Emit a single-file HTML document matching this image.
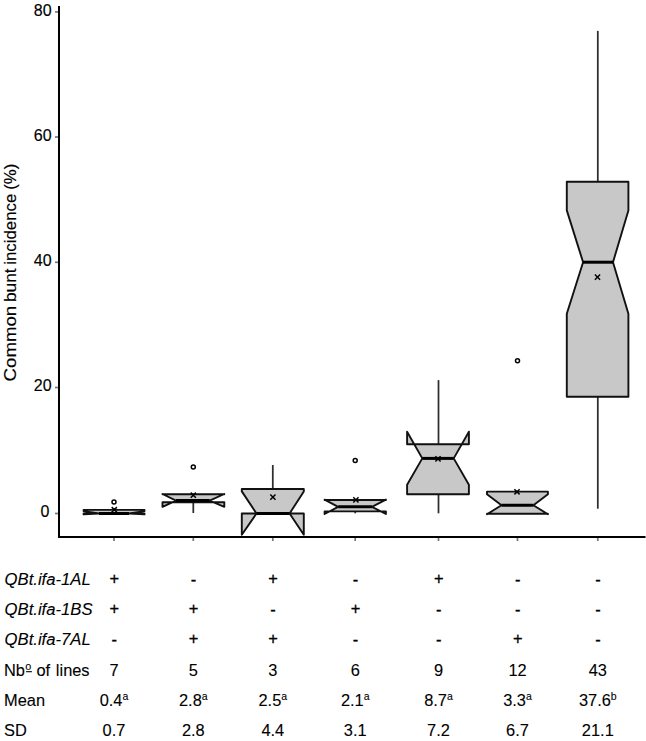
<!DOCTYPE html>
<html><head><meta charset="utf-8"><style>
html,body{margin:0;padding:0;background:#fff;}
body{width:646px;height:741px;overflow:hidden;}
svg{display:block;}
.t{font-family:"Liberation Sans",sans-serif;font-size:16px;fill:#000;}
</style></head><body>
<svg width="646" height="741" viewBox="0 0 646 741">
<line x1="59" y1="6" x2="59" y2="538" stroke="#000" stroke-width="2"/>
<line x1="58" y1="537" x2="645.5" y2="537" stroke="#000" stroke-width="2"/>
<line x1="55" y1="11.9" x2="58" y2="11.9" stroke="#777" stroke-width="1.7"/>
<text x="51.6" y="15.8" text-anchor="end" class="t" style="font-size:16px;stroke:#000;stroke-width:0.15px">80</text>
<line x1="55" y1="137" x2="58" y2="137" stroke="#777" stroke-width="1.7"/>
<text x="51.6" y="141.1" text-anchor="end" class="t" style="font-size:16px;stroke:#000;stroke-width:0.15px">60</text>
<line x1="55" y1="262.3" x2="58" y2="262.3" stroke="#777" stroke-width="1.7"/>
<text x="51.6" y="265.6" text-anchor="end" class="t" style="font-size:16px;stroke:#000;stroke-width:0.15px">40</text>
<line x1="55" y1="387.5" x2="58" y2="387.5" stroke="#777" stroke-width="1.7"/>
<text x="51.6" y="390.9" text-anchor="end" class="t" style="font-size:16px;stroke:#000;stroke-width:0.15px">20</text>
<line x1="55" y1="513.5" x2="58" y2="513.5" stroke="#777" stroke-width="1.7"/>
<text x="49.4" y="516.9" text-anchor="end" class="t" style="font-size:16px;stroke:#000;stroke-width:0.15px">0</text>
<line x1="114" y1="538" x2="114" y2="541" stroke="#777" stroke-width="1.7"/>
<line x1="193.3" y1="538" x2="193.3" y2="541" stroke="#777" stroke-width="1.7"/>
<line x1="272.8" y1="538" x2="272.8" y2="541" stroke="#777" stroke-width="1.7"/>
<line x1="355.2" y1="538" x2="355.2" y2="541" stroke="#777" stroke-width="1.7"/>
<line x1="438.5" y1="538" x2="438.5" y2="541" stroke="#777" stroke-width="1.7"/>
<line x1="517.5" y1="538" x2="517.5" y2="541" stroke="#777" stroke-width="1.7"/>
<line x1="597.8" y1="538" x2="597.8" y2="541" stroke="#777" stroke-width="1.7"/>
<text transform="translate(15.9,381.4) rotate(-90) scale(1.078,1)" class="t" style="font-size:17.3px;stroke:#000;stroke-width:0.15px">Common</text>
<text transform="translate(15.9,302) rotate(-90) scale(1.0,1)" class="t" style="font-size:17.3px;stroke:#000;stroke-width:0.15px">bunt</text>
<text transform="translate(15.9,264.8) rotate(-90) scale(0.974,1)" class="t" style="font-size:17.3px;stroke:#000;stroke-width:0.15px">incidence</text>
<text transform="translate(15.9,189.8) rotate(-90) scale(0.976,1)" class="t" style="font-size:17.3px;stroke:#000;stroke-width:0.15px">(%)</text>
<line x1="114" y1="509.9" x2="114" y2="508" stroke="#2e2e2e" stroke-width="1.75"/>
<circle cx="114" cy="502.1" r="2.0" fill="none" stroke="#000" stroke-width="1.5"/>
<path d="M83.6,509.9 L83.6,511.1 L99,513.5 L83.6,514.4 L83.6,513.5 L144.5,513.5 L144.5,514.4 L129,513.5 L144.5,511.1 L144.5,509.9 Z" fill="#c8c8c8" stroke="#111" stroke-width="1.9" stroke-linejoin="round"/>
<line x1="99" y1="513.5" x2="129" y2="513.5" stroke="#000" stroke-width="3"/>
<path d="M111.7,507.1 L116.9,512.3 M111.7,512.3 L116.9,507.1" stroke="#000" stroke-width="1.5" fill="none"/>
<line x1="193.3" y1="502.2" x2="193.3" y2="513" stroke="#2e2e2e" stroke-width="1.75"/>
<circle cx="193.3" cy="467" r="2.0" fill="none" stroke="#000" stroke-width="1.5"/>
<path d="M162.5,494.3 L162.5,494 L176,500.6 L162.5,506.8 L162.5,502.2 L224.3,502.2 L224.3,506.8 L209.6,500.6 L224.3,494 L224.3,494.3 Z" fill="#c8c8c8" stroke="#111" stroke-width="1.9" stroke-linejoin="round"/>
<line x1="176" y1="500.6" x2="209.6" y2="500.6" stroke="#000" stroke-width="3"/>
<path d="M190.7,492.6 L195.9,497.8 M190.7,497.8 L195.9,492.6" stroke="#000" stroke-width="1.5" fill="none"/>
<line x1="272.8" y1="489" x2="272.8" y2="465" stroke="#2e2e2e" stroke-width="1.75"/>
<path d="M241.8,489 L241.8,491.4 L256.5,513.5 L241.8,534.8 L241.8,513.5 L303.8,513.5 L303.8,534.8 L289.6,513.5 L303.8,491.4 L303.8,489 Z" fill="#c8c8c8" stroke="#111" stroke-width="1.9" stroke-linejoin="round"/>
<line x1="256.5" y1="513.5" x2="289.6" y2="513.5" stroke="#000" stroke-width="3"/>
<path d="M270.3,494.5 L275.5,499.7 M270.3,499.7 L275.5,494.5" stroke="#000" stroke-width="1.5" fill="none"/>
<line x1="355.2" y1="511.4" x2="355.2" y2="513.3" stroke="#2e2e2e" stroke-width="1.75"/>
<circle cx="355.2" cy="460.5" r="2.0" fill="none" stroke="#000" stroke-width="1.5"/>
<path d="M324.6,500 L324.6,499.6 L338.2,506.8 L324.6,514 L324.6,511.4 L385.9,511.4 L385.9,514 L371.9,506.8 L385.9,499.6 L385.9,500 Z" fill="#c8c8c8" stroke="#111" stroke-width="1.9" stroke-linejoin="round"/>
<line x1="338.2" y1="506.8" x2="371.9" y2="506.8" stroke="#000" stroke-width="3"/>
<path d="M353.3,497.3 L358.5,502.5 M353.3,502.5 L358.5,497.3" stroke="#000" stroke-width="1.5" fill="none"/>
<line x1="438.5" y1="444.3" x2="438.5" y2="380.1" stroke="#2e2e2e" stroke-width="1.75"/>
<line x1="438.5" y1="494.3" x2="438.5" y2="513.3" stroke="#2e2e2e" stroke-width="1.75"/>
<path d="M407.1,444.3 L407.1,431.7 L422.3,458.4 L407.1,484.8 L407.1,494.3 L468.9,494.3 L468.9,484.8 L453.7,458.4 L468.9,431.7 L468.9,444.3 Z" fill="#c8c8c8" stroke="#111" stroke-width="1.9" stroke-linejoin="round"/>
<line x1="422.3" y1="458.4" x2="453.7" y2="458.4" stroke="#000" stroke-width="3"/>
<path d="M435.4,456.3 L440.6,461.5 M435.4,461.5 L440.6,456.3" stroke="#000" stroke-width="1.5" fill="none"/>
<circle cx="517.5" cy="360.8" r="2.0" fill="none" stroke="#000" stroke-width="1.5"/>
<path d="M487,491.6 L487,494.2 L501.5,505.2 L487,514.3 L487,513.7 L547.9,513.7 L547.9,514.3 L533.4,505.2 L547.9,494.2 L547.9,491.6 Z" fill="#c8c8c8" stroke="#111" stroke-width="1.9" stroke-linejoin="round"/>
<line x1="501.5" y1="505.2" x2="533.4" y2="505.2" stroke="#000" stroke-width="3"/>
<path d="M514.4,489.2 L519.6,494.4 M514.4,494.4 L519.6,489.2" stroke="#000" stroke-width="1.5" fill="none"/>
<line x1="597.8" y1="181.8" x2="597.8" y2="30.9" stroke="#2e2e2e" stroke-width="1.75"/>
<line x1="597.8" y1="396.8" x2="597.8" y2="508.7" stroke="#2e2e2e" stroke-width="1.75"/>
<path d="M566.8,181.8 L566.8,210.4 L583.1,262.2 L566.8,313.7 L566.8,396.8 L628.4,396.8 L628.4,313.7 L613,262.2 L628.4,210.4 L628.4,181.8 Z" fill="#c8c8c8" stroke="#111" stroke-width="1.9" stroke-linejoin="round"/>
<line x1="583.1" y1="262.2" x2="613" y2="262.2" stroke="#000" stroke-width="3"/>
<path d="M594.9,274.5 L600.1,279.7 M594.9,279.7 L600.1,274.5" stroke="#000" stroke-width="1.5" fill="none"/>
<text transform="translate(4.6,584.8) scale(1.017,1.0)" class="t" style="font-size:16.4px;stroke:#000;stroke-width:0.1px;font-style:italic">QBt.ifa-1AL</text>
<text transform="translate(114.3,584.2)" text-anchor="middle" class="t" style="font-size:16.4px;stroke:#000;stroke-width:0.3px">+</text>
<text transform="translate(193.6,585.1)" text-anchor="middle" class="t" style="font-size:16.4px;stroke:#000;stroke-width:0.3px">-</text>
<text transform="translate(273.1,584.2)" text-anchor="middle" class="t" style="font-size:16.4px;stroke:#000;stroke-width:0.3px">+</text>
<text transform="translate(355.5,585.1)" text-anchor="middle" class="t" style="font-size:16.4px;stroke:#000;stroke-width:0.3px">-</text>
<text transform="translate(438.8,584.2)" text-anchor="middle" class="t" style="font-size:16.4px;stroke:#000;stroke-width:0.3px">+</text>
<text transform="translate(517.8,585.1)" text-anchor="middle" class="t" style="font-size:16.4px;stroke:#000;stroke-width:0.3px">-</text>
<text transform="translate(598.1,585.1)" text-anchor="middle" class="t" style="font-size:16.4px;stroke:#000;stroke-width:0.3px">-</text>
<text transform="translate(4.6,614.7) scale(1.017,1.0)" class="t" style="font-size:16.4px;stroke:#000;stroke-width:0.1px;font-style:italic">QBt.ifa-1BS</text>
<text transform="translate(114.3,614.1)" text-anchor="middle" class="t" style="font-size:16.4px;stroke:#000;stroke-width:0.3px">+</text>
<text transform="translate(193.6,614.1)" text-anchor="middle" class="t" style="font-size:16.4px;stroke:#000;stroke-width:0.3px">+</text>
<text transform="translate(273.1,615)" text-anchor="middle" class="t" style="font-size:16.4px;stroke:#000;stroke-width:0.3px">-</text>
<text transform="translate(355.5,614.1)" text-anchor="middle" class="t" style="font-size:16.4px;stroke:#000;stroke-width:0.3px">+</text>
<text transform="translate(438.8,615)" text-anchor="middle" class="t" style="font-size:16.4px;stroke:#000;stroke-width:0.3px">-</text>
<text transform="translate(517.8,615)" text-anchor="middle" class="t" style="font-size:16.4px;stroke:#000;stroke-width:0.3px">-</text>
<text transform="translate(598.1,615)" text-anchor="middle" class="t" style="font-size:16.4px;stroke:#000;stroke-width:0.3px">-</text>
<text transform="translate(4.6,644.9) scale(1.017,1.0)" class="t" style="font-size:16.4px;stroke:#000;stroke-width:0.1px;font-style:italic">QBt.ifa-7AL</text>
<text transform="translate(114.3,645.2)" text-anchor="middle" class="t" style="font-size:16.4px;stroke:#000;stroke-width:0.3px">-</text>
<text transform="translate(193.6,644.3)" text-anchor="middle" class="t" style="font-size:16.4px;stroke:#000;stroke-width:0.3px">+</text>
<text transform="translate(273.1,644.3)" text-anchor="middle" class="t" style="font-size:16.4px;stroke:#000;stroke-width:0.3px">+</text>
<text transform="translate(355.5,645.2)" text-anchor="middle" class="t" style="font-size:16.4px;stroke:#000;stroke-width:0.3px">-</text>
<text transform="translate(438.8,645.2)" text-anchor="middle" class="t" style="font-size:16.4px;stroke:#000;stroke-width:0.3px">-</text>
<text transform="translate(517.8,644.3)" text-anchor="middle" class="t" style="font-size:16.4px;stroke:#000;stroke-width:0.3px">+</text>
<text transform="translate(598.1,645.2)" text-anchor="middle" class="t" style="font-size:16.4px;stroke:#000;stroke-width:0.3px">-</text>
<text transform="translate(4,675.5) scale(1.0,1.0)" class="t" style="font-size:16.4px;stroke:#000;stroke-width:0.1px">Nb<tspan font-size="10.8" dx="0.4" dy="-5.2">o</tspan><tspan dx="0.5" dy="5.2"> of</tspan><tspan dx="1.2"> lines</tspan></text>
<text transform="translate(114,675.5) scale(1.0,1.0)" text-anchor="middle" class="t" style="font-size:16.4px;stroke:#000;stroke-width:0.1px">7</text>
<text transform="translate(193.3,675.5) scale(1.0,1.0)" text-anchor="middle" class="t" style="font-size:16.4px;stroke:#000;stroke-width:0.1px">5</text>
<text transform="translate(272.8,675.5) scale(1.0,1.0)" text-anchor="middle" class="t" style="font-size:16.4px;stroke:#000;stroke-width:0.1px">3</text>
<text transform="translate(355.2,675.5) scale(1.0,1.0)" text-anchor="middle" class="t" style="font-size:16.4px;stroke:#000;stroke-width:0.1px">6</text>
<text transform="translate(438.5,675.5) scale(1.0,1.0)" text-anchor="middle" class="t" style="font-size:16.4px;stroke:#000;stroke-width:0.1px">9</text>
<text transform="translate(517.5,675.5) scale(1.0,1.0)" text-anchor="middle" class="t" style="font-size:16.4px;stroke:#000;stroke-width:0.1px">12</text>
<text transform="translate(597.8,675.5) scale(1.0,1.0)" text-anchor="middle" class="t" style="font-size:16.4px;stroke:#000;stroke-width:0.1px">43</text>
<text transform="translate(4,705.5) scale(1.0,1.0)" class="t" style="font-size:16.4px;stroke:#000;stroke-width:0.1px">Mean</text>
<text transform="translate(114,705.5) scale(1.0,1.0)" text-anchor="middle" class="t" style="font-size:16.4px;stroke:#000;stroke-width:0.1px">0.4<tspan font-size="10.5" dy="-5.1">a</tspan></text>
<text transform="translate(193.3,705.5) scale(1.0,1.0)" text-anchor="middle" class="t" style="font-size:16.4px;stroke:#000;stroke-width:0.1px">2.8<tspan font-size="10.5" dy="-5.1">a</tspan></text>
<text transform="translate(272.8,705.5) scale(1.0,1.0)" text-anchor="middle" class="t" style="font-size:16.4px;stroke:#000;stroke-width:0.1px">2.5<tspan font-size="10.5" dy="-5.1">a</tspan></text>
<text transform="translate(355.2,705.5) scale(1.0,1.0)" text-anchor="middle" class="t" style="font-size:16.4px;stroke:#000;stroke-width:0.1px">2.1<tspan font-size="10.5" dy="-5.1">a</tspan></text>
<text transform="translate(438.5,705.5) scale(1.0,1.0)" text-anchor="middle" class="t" style="font-size:16.4px;stroke:#000;stroke-width:0.1px">8.7<tspan font-size="10.5" dy="-5.1">a</tspan></text>
<text transform="translate(517.5,705.5) scale(1.0,1.0)" text-anchor="middle" class="t" style="font-size:16.4px;stroke:#000;stroke-width:0.1px">3.3<tspan font-size="10.5" dy="-5.1">a</tspan></text>
<text transform="translate(597.8,705.5) scale(1.0,1.0)" text-anchor="middle" class="t" style="font-size:16.4px;stroke:#000;stroke-width:0.1px">37.6<tspan font-size="10.5" dy="-5.1">b</tspan></text>
<text transform="translate(4,736) scale(1.0,1.0)" class="t" style="font-size:16.4px;stroke:#000;stroke-width:0.1px">SD</text>
<text transform="translate(114,736) scale(1.0,1.0)" text-anchor="middle" class="t" style="font-size:16.4px;stroke:#000;stroke-width:0.1px">0.7</text>
<text transform="translate(193.3,736) scale(1.0,1.0)" text-anchor="middle" class="t" style="font-size:16.4px;stroke:#000;stroke-width:0.1px">2.8</text>
<text transform="translate(272.8,736) scale(1.0,1.0)" text-anchor="middle" class="t" style="font-size:16.4px;stroke:#000;stroke-width:0.1px">4.4</text>
<text transform="translate(355.2,736) scale(1.0,1.0)" text-anchor="middle" class="t" style="font-size:16.4px;stroke:#000;stroke-width:0.1px">3.1</text>
<text transform="translate(438.5,736) scale(1.0,1.0)" text-anchor="middle" class="t" style="font-size:16.4px;stroke:#000;stroke-width:0.1px">7.2</text>
<text transform="translate(517.5,736) scale(1.0,1.0)" text-anchor="middle" class="t" style="font-size:16.4px;stroke:#000;stroke-width:0.1px">6.7</text>
<text transform="translate(597.8,736) scale(1.0,1.0)" text-anchor="middle" class="t" style="font-size:16.4px;stroke:#000;stroke-width:0.1px">21.1</text>
<line x1="26.1" y1="671.7" x2="31.9" y2="671.7" stroke="#000" stroke-width="1.1"/>
</svg>
</body></html>
